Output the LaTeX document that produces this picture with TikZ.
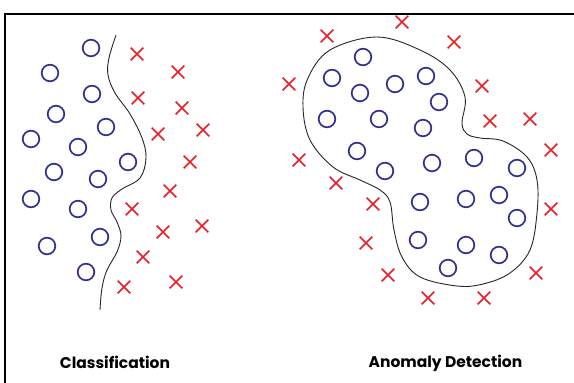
\documentclass[tikz,border=0pt]{standalone}
\usepackage{fontspec}
\setmainfont{Poppins}
\definecolor{dotblue}{RGB}{46,49,146}
\definecolor{xred}{RGB}{237,28,36}
\tikzset{
  ocirc/.style={draw=dotblue, line width=1.7pt},
  xmark/.style={draw=xred, line width=1.7pt},
  boundary/.style={draw=black!85, line width=0.9pt},
  frameline/.style={draw=black, line width=2pt},
  title/.style={font=\fontsize{15.5}{18}\selectfont\bfseries, anchor=base, inner sep=0pt}
}
\begin{document}
\begin{tikzpicture}[x=1pt,y=-1pt]
\useasboundingbox (0,0) rectangle (574,383);
\fill[white] (0,0) rectangle (574,383);
% frame
\coordinate (fr) at (574,14);
\coordinate (fc) at (5,14);
\coordinate (fb) at (5,383);
\draw[frameline] (fr) -- (fc) -- (fb);
% left panel circles
\foreach \x/\y in {91/48,50/73,92/94,56/114,106/127,31/139,78/147,128/162,54/172,98/179,31/199,78/209,100/237,47/246,86/272}
  \draw[ocirc] (\x,\y) circle (8.3);
% left panel crosses
\foreach \x/\y in {137/54,178/72,138/98,182/108,158/134,203/130,190/162,170/191,132/209,163/232,202/226,143/257,124/287,176/282}
  \draw[xmark] (\x-6.3,\y-6.3) -- (\x+6.3,\y+6.3) (\x-6.3,\y+6.3) -- (\x+6.3,\y-6.3);
% left boundary
\draw[boundary] plot[smooth, tension=0.6] coordinates {(116,35) (109,58) (108,75) (115,93) (130,114) (142,138) (146,158) (140,178) (122,189) (112,198) (111,210) (117,222) (121,236) (117,252) (107,270) (102,288) (100,310)};
% right panel circles
\foreach \x/\y in {363/57,332/78,360/93,395/84,426/76,439/102,327/119,379/119,423/128,357/151,385/171,432/163,474/158,517/168,420/202,466/199,499/195,517/218,418/240,466/245,499/255,448/268}
  \draw[ocirc] (\x,\y) circle (8.3);
% right panel crosses
\foreach \x/\y in {402/22,327/36,454/42,289/84,482/86,490/121,530/119,551/150,299/160,336/183,373/204,551/209,366/243,388/275,536/273,428/298,484/298}
  \draw[xmark] (\x-6.3,\y-6.3) -- (\x+6.3,\y+6.3) (\x-6.3,\y+6.3) -- (\x+6.3,\y-6.3);
% right boundary
\draw[boundary] plot[smooth cycle, tension=0.6] coordinates {(377,37) (420,50) (450,70) (465,97) (462,123) (467,134) (480,138) (503,141) (527,157) (537,180) (537,213) (530,250) (510,273) (483,284) (457,286) (420,277) (402,257) (394,230) (390,202) (380,190) (360,180) (333,167) (310,140) (303,107) (308,78) (330,50)};
% titles
\node[title] (tc) at (115,368) {Classification};
\node[title] (ta) at (445.5,367) {Anomaly Detection};
\end{tikzpicture}
\end{document}
